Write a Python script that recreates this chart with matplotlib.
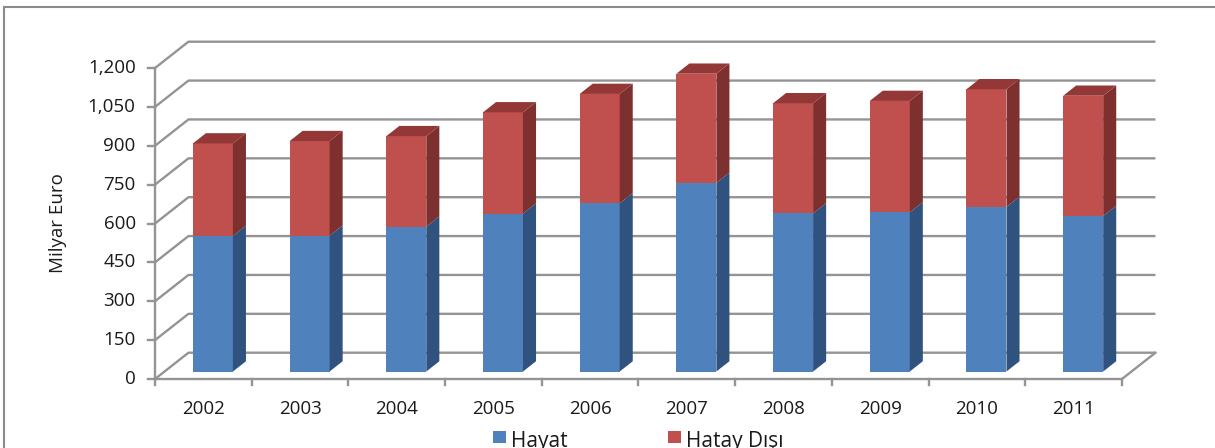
import matplotlib
matplotlib.use("Agg")
import matplotlib.pyplot as plt
from matplotlib.patches import Polygon, Rectangle

plt.rcParams['font.family'] = ['Open Sans', 'DejaVu Sans']

# veriler (milyar euro)
yillar = ['2002', '2003', '2004', '2005', '2006', '2007', '2008', '2009', '2010', '2011']
hayat = [523, 524, 559, 609, 649, 728, 610, 614, 635, 600]
hayat_disi = [357, 365, 349, 391, 422, 421, 425, 430, 454, 464]
y_ticks = [0, 150, 300, 450, 600, 750, 900, 1050, 1200]

# 3d gorunum icin kaydirma (kategori / deger biriminde)
DX = 0.346
DY = 101.5
D0, D1 = 0.285, 0.675   # cubugun derinlik araligi
W = 0.414               # cubuk genisligi

renkler = {
    'hayat': ('#4F81BD', '#30527E', '#3F6A9E'),
    'disi': ('#C0504D', '#7D302E', '#933836'),
}
grid_renk = '#949494'


def p(x, v, d):
    return (x + d * DX, v + d * DY)


def kutu(ax, x0, x1, alt, ust, renk, ust_yuz):
    on, yan, tepe = renk
    ax.add_patch(Polygon([p(x0, alt, D0), p(x1, alt, D0), p(x1, ust, D0), p(x0, ust, D0)],
                         closed=True, facecolor=on, edgecolor='none', zorder=3))
    ax.add_patch(Polygon([p(x1, alt, D0), p(x1, alt, D1), p(x1, ust, D1), p(x1, ust, D0)],
                         closed=True, facecolor=yan, edgecolor='none', zorder=3))
    if ust_yuz:
        ax.add_patch(Polygon([p(x0, ust, D0), p(x1, ust, D0), p(x1, ust, D1), p(x0, ust, D1)],
                             closed=True, facecolor=tepe, edgecolor='none', zorder=3))


fig = plt.figure(figsize=(12.15, 4.48), dpi=100)
ax = fig.add_axes([0, 0, 1, 1])
ax.set_xlim(-1.603, 10.962)
ax.set_ylim(-266.2, 1462.4)
ax.axis('off')

n = len(yillar)

# arka duvar cizgileri
for v in y_ticks:
    xs, ys = zip(p(0, v, 0), p(0, v, 1), p(n, v, 1))
    ax.plot(xs, ys, color=grid_renk, lw=1.7, zorder=1, solid_capstyle='butt')

# zemin
xs, ys = zip(p(0, 0, 0), p(n, 0, 0), p(n, 0, 1))
ax.plot(xs, ys, color=grid_renk, lw=1.7, zorder=1)

# dikey eksen
ax.plot([0, 0], [0, 1200], color=grid_renk, lw=1.7, zorder=2)
for v in y_ticks:
    ax.plot([-0.07, 0], [v, v], color=grid_renk, lw=1.7, zorder=2)
    ax.text(-0.2, v, f'{v:,}', ha='right', va='center', fontsize=13.5, color='#1a1a1a')

# yatay eksen tikleri
for i in range(n + 1):
    ax.plot([i, i], [0, -22], color=grid_renk, lw=1.7, zorder=2)

for i, yil in enumerate(yillar):
    ax.text(i + 0.5, -116, yil, ha='center', va='center', fontsize=13.5, color='#1a1a1a')

# cubuklar
for i in range(n):
    x0 = i + 0.5 - W / 2
    x1 = i + 0.5 + W / 2
    kutu(ax, x0, x1, 0, hayat[i], renkler['hayat'], False)
    kutu(ax, x0, x1, hayat[i], hayat[i] + hayat_disi[i], renkler['disi'], True)

ax.text(-1.0, 600, 'Milyar Euro', rotation=90, ha='center', va='center',
        fontsize=13.5, color='#1a1a1a')

# cerceve
fig.patches.append(Rectangle((3.5 / 1215, -0.1), 1.2, (448 - 7) / 448 + 0.1,
                             transform=fig.transFigure, fill=False,
                             edgecolor='#8a8a8a', lw=1.5))

# lejant (alt kismi kesik)
for x_kare, etiket, renk in [(493, 'Hayat', '#4F81BD'), (668, 'Hatay Dışı', '#C0504D')]:
    fig.patches.append(Rectangle((x_kare / 1215, 5 / 448), 12.5 / 1215, 12.5 / 448,
                                 transform=fig.transFigure, facecolor=renk, edgecolor='none'))
    fig.text((x_kare + 18) / 1215, 1.0 / 448, etiket, ha='left', va='baseline',
             fontsize=15, color='#1a1a1a')

fig.savefig('out.png', dpi=100)
